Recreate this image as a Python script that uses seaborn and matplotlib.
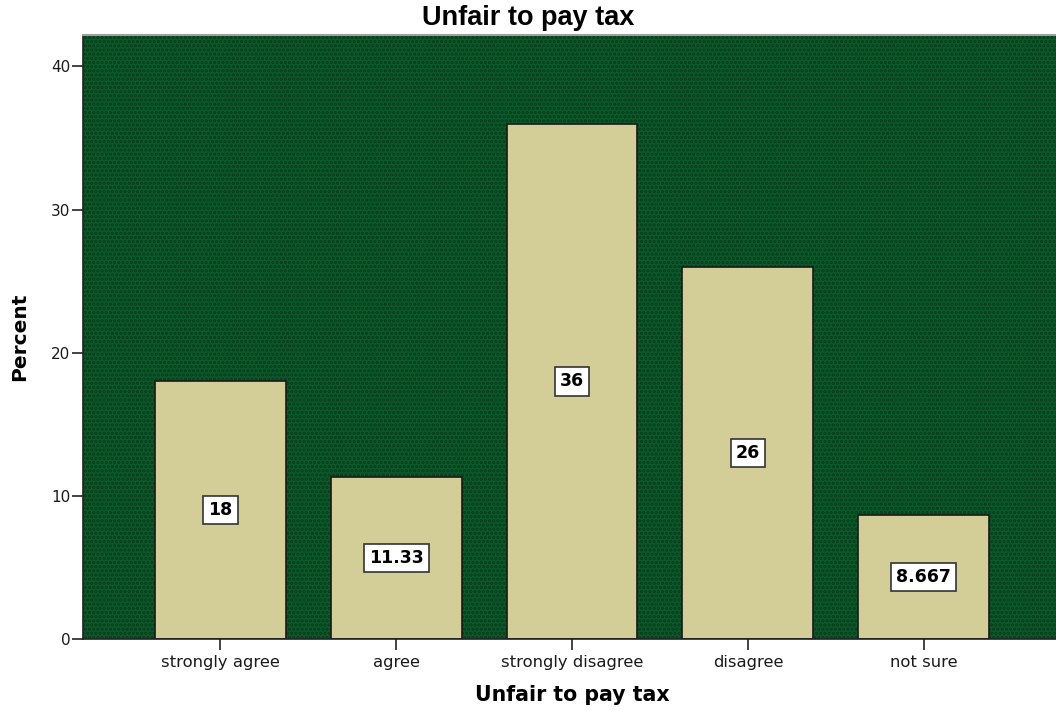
import matplotlib
matplotlib.use("Agg")
import matplotlib.pyplot as plt
import seaborn as sns
from matplotlib.patches import Rectangle

categories = ["strongly agree", "agree", "strongly disagree", "disagree", "not sure"]
percents = [18, 11.33, 36, 26, 8.667]
value_labels = ["18", "11.33", "36", "26", "8.667"]
y_ticks = [0, 10, 20, 30, 40]

sns.set_theme(style="ticks")
plt.rcParams["font.family"] = ["DejaVu Sans"]
plt.rcParams["text.color"] = "black"
plt.rcParams["axes.labelcolor"] = "black"
plt.rcParams["hatch.linewidth"] = 1.6
plt.rcParams["hatch.color"] = "#073b1b"

fig = plt.figure(figsize=(10.56, 7.11), dpi=100)
ax = fig.add_axes([83 / 1056, 72 / 711, 978 / 1056, 604 / 711])

bg_green = "#0c5a2b"
ax.set_facecolor(bg_green)
ax.add_patch(Rectangle((0, 0), 1, 1, transform=ax.transAxes, facecolor=bg_green,
                       hatch="....", edgecolor="#073b1b", linewidth=0, zorder=0))

sns.barplot(x=categories, y=percents, color="#d3cd98", edgecolor="#1a1a1a",
            linewidth=1.2, width=0.744, saturation=1, ax=ax, zorder=2)

for i, (v, lab) in enumerate(zip(percents, value_labels)):
    ax.text(i, v / 2, lab, ha="center", va="center", fontsize=12.5, fontweight="bold",
            color="black", zorder=4,
            bbox=dict(boxstyle="square,pad=0.3", facecolor="white", edgecolor="#333333", linewidth=1.2))

ax.set_xlim(-0.78, 4.78)
ax.set_ylim(0, 42.2)
ax.set_yticks(y_ticks)
ax.tick_params(axis="both", direction="out", length=8, width=1.2, color="#222222",
               labelsize=11, labelcolor="#1a1a1a")
ax.tick_params(axis="x", labelsize=11.8)
ax.tick_params(axis="y", pad=1)

for side in ["left", "bottom"]:
    ax.spines[side].set_color("#222222")
    ax.spines[side].set_linewidth(1.2)
ax.spines["top"].set_color("#a0a0a0")
ax.spines["top"].set_linewidth(1.5)
ax.spines["right"].set_visible(False)

ax.set_xlabel("Unfair to pay tax", fontsize=14.8, fontweight="bold", labelpad=11)
ax.set_ylabel("Percent", fontsize=14.5, fontweight="bold", labelpad=16)

fig.text(0.5, 0.975, "Unfair to pay tax", ha="center", va="center", fontsize=19.5,
         fontweight="bold", family=["Liberation Sans", "DejaVu Sans"])

fig.savefig("out.png", dpi=100)
